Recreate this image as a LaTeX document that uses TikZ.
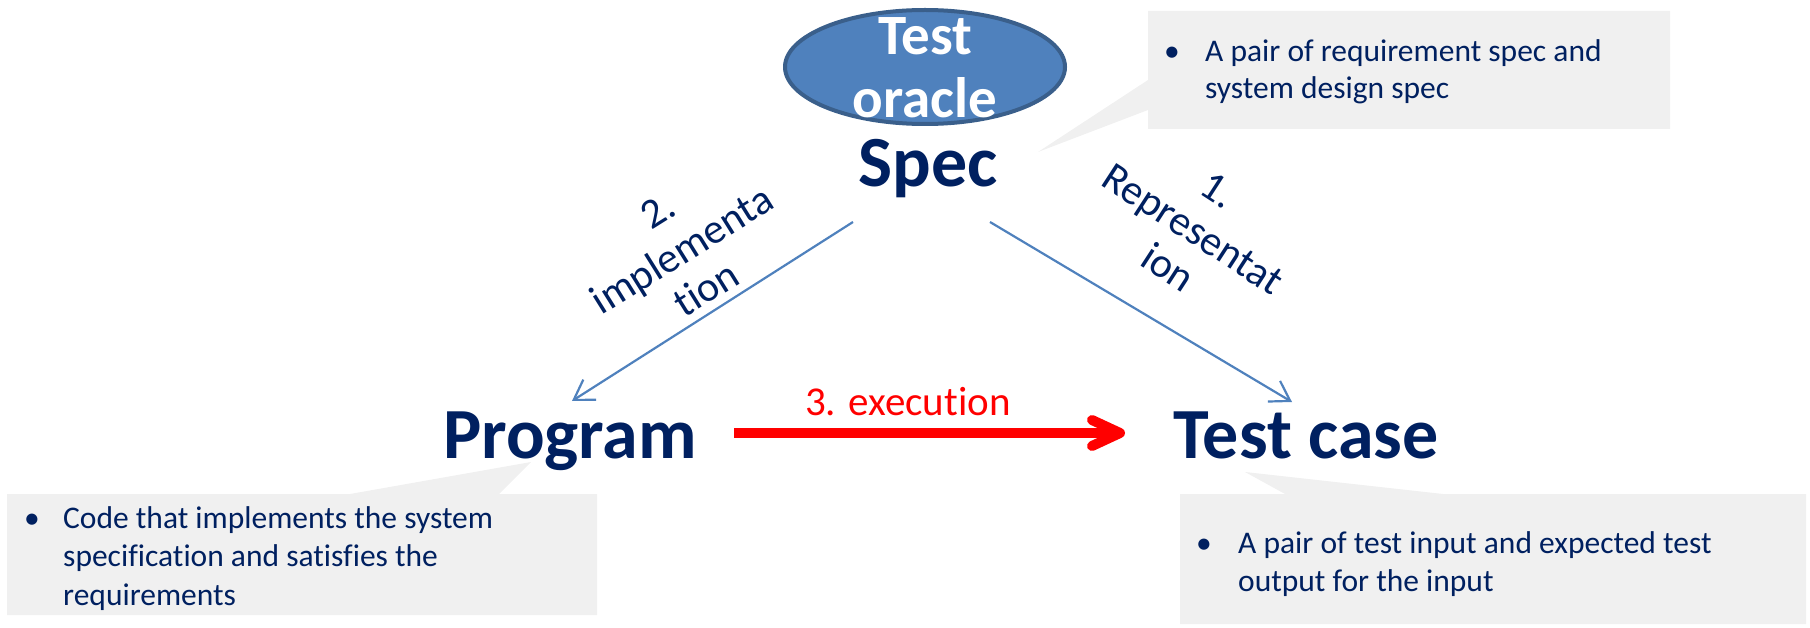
\documentclass[tikz,border=0pt]{standalone}
\usepackage{fontspec}
\setmainfont[Ligatures=NoCommon]{Carlito}
\usetikzlibrary{arrows.meta,shapes.geometric}
\definecolor{navy}{HTML}{002060}
\definecolor{ovalfill}{HTML}{4F81BD}
\definecolor{ovalrim}{HTML}{3A5F8B}
\definecolor{lineblue}{HTML}{4F81BD}
\definecolor{boxgray}{HTML}{F0F0F0}
\definecolor{pured}{HTML}{FF0000}
\begin{document}
\begin{tikzpicture}[x=1pt,y=-1pt,
  big/.style={font=\fontsize{72}{80}\selectfont\bfseries, text=navy, inner sep=0pt, anchor=base},
  lbl/.style={font=\fontsize{42}{46}\selectfont, text=navy, align=center, inner sep=0pt},
  notetext/.style={font=\fontsize{31.5}{38.5}\selectfont, text=navy, align=left, inner sep=0pt, anchor=base west},
  bul/.style={font=\fontsize{31.5}{38.5}\selectfont, text=navy, inner sep=0pt, anchor=base},
  calloutbg/.style={fill=boxgray, draw=none},
  blueline/.style={draw=lineblue, line width=2.2pt, -{Straight Barb[length=19pt,width=24pt]}},
  redline/.style={draw=pured, line width=10pt, -{Straight Barb[length=28pt,width=26pt,round]}},
]
\path[use as bounding box] (0,0) rectangle (1810,628);

% callout backgrounds
\path[calloutbg] (1148,11) -- (1670,11) -- (1670,129) -- (1148,129) -- (1148,110) -- (1038,152) -- (1148,80) -- cycle;
\path[calloutbg] (7,494) -- (350,494) -- (531,462) -- (499,494) -- (597,494) -- (597,615) -- (7,615) -- cycle;
\path[calloutbg] (1180,494) -- (1285,494) -- (1245,472) -- (1443,494) -- (1806,494) -- (1806,624) -- (1180,624) -- cycle;

% test oracle (multi-line nodes: base = last line's baseline)
\node[ellipse, draw=ovalrim, line width=4pt, fill=ovalfill, minimum width=280pt, minimum height=114pt, inner sep=0pt] (oracle) at (925,67) {};
\node[font=\fontsize{57}{63}\selectfont\bfseries, text=white, align=center, inner sep=0pt, anchor=base] (oracletext) at (925,118) {Test\\oracle};

% main nodes
\node[big] (spec) at (928,187) {Spec};
\node[big] (program) at (570,458) {Program};
\node[big] (testcase) at (1306,458) {Test case};

% callout texts
\node[bul] (b1) at (1172,62) {•};
\node[notetext, font=\fontsize{31.5}{36.6}\selectfont] (n1) at (1205,98.6) {A pair of requirement spec and\\system design spec};
\node[bul] (b2) at (32,528) {•};
\node[notetext] (n2) at (63,605) {Code that implements the system\\specification and satisfies the\\requirements};
\node[bul] (b3) at (1204,553) {•};
\node[notetext] (n3) at (1238,591.5) {A pair of test input and expected test\\output for the input};

% connectors
\coordinate (specL) at (853,222);
\coordinate (progT) at (572,401);
\coordinate (specR) at (990,222);
\coordinate (caseT) at (1292,402);
\coordinate (progE) at (734,433);
\coordinate (caseW) at (1125,433);
\draw[blueline] (specL) -- (progT);
\draw[blueline] (specR) -- (caseT);
\draw[redline] (progE) -- (caseW);

% labels
\node[lbl, rotate=32] (impl) at (682,250) {2.\\implementa\\tion};
\node[lbl, rotate=-33] (repr) at (1193,229) {1.\\Representat\\ion};
\node[font=\fontsize{41}{46}\selectfont, text=pured, inner sep=0pt, anchor=base west] (exec) at (805,415) {3. execution};
\end{tikzpicture}
\end{document}
